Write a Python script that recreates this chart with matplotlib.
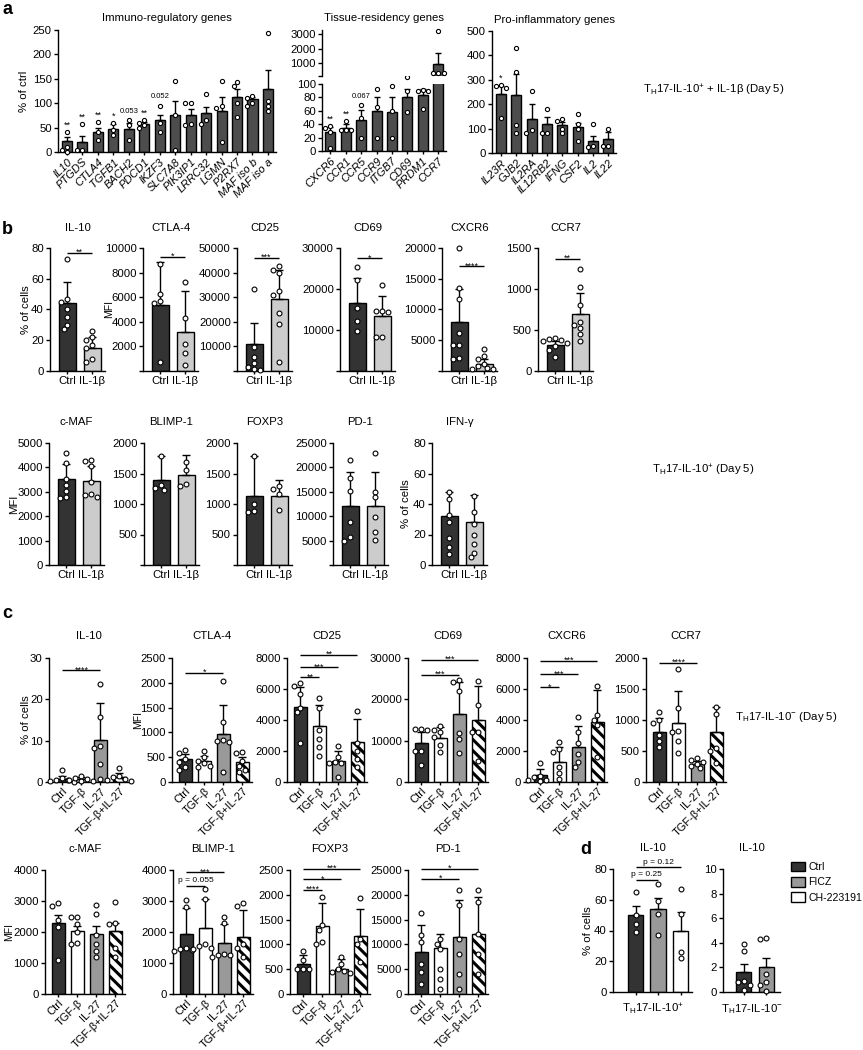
import numpy as np
import matplotlib
matplotlib.use('Agg')
import matplotlib.pyplot as plt
from matplotlib.patches import Patch

plt.rcParams['font.family'] = ['Liberation Sans', 'DejaVu Sans']
plt.rcParams['hatch.linewidth'] = 2.2
plt.rcParams['axes.linewidth'] = 1.0

W, H = 863, 1050
FS = 8.2
DARK = '#333333'
A_BAR = '#4d4d4d'
LIGHT = '#cccccc'
MID = '#999999'

# ---------------- panel a ----------------
a_imm_genes = ['IL10', 'PTGDS', 'CTLA4', 'TGFB1', 'BACH2', 'PDCD1', 'IKZF3', 'SLC7A8',
               'PIK3IP1', 'LRRC32', 'LGMN', 'P2RX7', 'MAF iso b', 'MAF iso a']
a_imm_mean = [22, 20, 42, 48, 48, 57, 65, 75, 76, 79, 85, 113, 108, 130]
a_imm_err = [30, 33, 50, 57, 60, 62, 76, 104, 88, 93, 112, 130, 113, 169]
a_imm_pts = [[42, 10, 5, 0], [58, 5, 5], [62, 40, 25], [60, 45, 35], [65, 55, 25],
             [65, 60, 55, 50], [95, 60, 42], [145, 75, 5], [100, 100, 57, 55],
             [118, 65, 58], [146, 95, 90, 20], [144, 135, 100, 72],
             [115, 110, 100, 95], [243, 105, 95, 85]]
a_imm_sig = ['**', '**', '**', '*', '0.053', '**', '0.052', '', '', '', '', '', '', '']

a_tis_genes = ['CXCR6', 'CCR1', 'CCR5', 'CCR9', 'ITGB7', 'CD69', 'PRDM1', 'CCR7']
a_tis_mean = [28, 34, 46, 59, 58, 80, 83, 950]
a_tis_err = [36, 41, 61, 81, 81, 92, 92, 1700]
a_tis_pts = [[38, 35, 28, 5], [45, 32, 32, 32], [68, 50, 20], [92, 65, 20], [97, 60, 20],
             [110, 90, 58], [91, 90, 90, 62], [3200, 330, 330, 330]]
a_tis_sig = ['**', '**', '0.067', '', '', '', '', '']

a_pro_genes = ['IL23R', 'GJB2', 'IL2RA', 'IL12RB2', 'IFNG', 'CSF2', 'IL2', 'IL22']
a_pro_mean = [240, 237, 140, 117, 113, 108, 50, 58]
a_pro_err = [275, 325, 200, 148, 128, 125, 70, 87]
a_pro_pts = [[280, 275, 265, 145], [430, 330, 115, 80], [255, 95, 80], [180, 80, 80],
             [140, 130, 100, 80], [160, 120, 100, 50], [120, 30, 25], [100, 30, 30]]
a_pro_sig = ['*', '', '', '', '', '', '', '']

# ---------------- panel b ----------------
b_groups = ['Ctrl', 'IL-1β']
b_colors = [DARK, LIGHT]

b1_titles = ['IL-10', 'CTLA-4', 'CD25', 'CD69', 'CXCR6', 'CCR7']
b1_ymax = [80, 10000, 50000, 30000, 20000, 1500]
b1_ystep = [20, 2000, 10000, 10000, 5000, 500]
b1_zero = [True, False, False, False, False, True]
b1_ylab = ['% of cells', 'MFI', '', '', '', '']
b1_mean = [[44, 15], [5400, 3200], [11000, 29300], [16700, 13500], [8000, 1200], [315, 690]]
b1_err = [[58, 22], [8900, 6500], [19500, 41000], [22800, 18400], [13300, 1900], [360, 950]]
b1_pts = [
    [[73, 47, 45, 40, 35, 30, 27], [26, 22, 20, 17, 15, 8, 6]],
    [[8700, 6300, 5700, 5500, 700], [7200, 4300, 2200, 1500, 500]],
    [[33300, 9700, 5700, 3200, 1600, 800, 300], [42500, 41000, 40000, 32500, 31000, 23600, 19100, 3700]],
    [[25400, 22200, 15400, 12200, 9800], [21000, 14600, 14600, 14500, 8300, 8300]],
    [[20000, 13500, 11700, 6200, 4200, 4200, 2100, 2000], [3500, 2400, 2000, 1200, 800, 500, 400, 300]],
    [[400, 390, 380, 370, 340, 300, 255, 170], [1240, 1020, 810, 600, 560, 520, 450, 370]],
]
b1_sig = [('**', 77), ('*', 9300), ('***', 46000), ('*', 27500), ('****', 17000), ('**', 1370)]

b2_titles = ['c-MAF', 'BLIMP-1', 'FOXP3', 'PD-1', 'IFN-γ']
b2_ymax = [5000, 2000, 2000, 25000, 80]
b2_ystep = [1000, 500, 500, 5000, 20]
b2_zero = [True, False, False, False, True]
b2_ylab = ['MFI', '', '', '', '% of cells']
b2_mean = [[3530, 3450], [1390, 1480], [1130, 1130], [12100, 12000], [32, 28]]
b2_err = [[4150, 4050], [1780, 1800], [1780, 1400], [19000, 19000], [48, 46]]
b2_pts = [
    [[4580, 4200, 3520, 3280, 3030, 2790, 2750], [4300, 4250, 4050, 3400, 2900, 2850, 2800]],
    [[1780, 1310, 1270, 1230], [1690, 1560, 1330, 1300]],
    [[1780, 1000, 880, 870], [1300, 1250, 1160, 900]],
    [[21500, 17800, 15100, 8800, 5700, 5000], [23000, 15000, 13900, 9800, 6800, 5200]],
    [[48, 43, 33, 28, 18, 12, 7], [45, 35, 27, 20, 14, 8, 5]],
]

# ---------------- panel c ----------------
c_groups = ['Ctrl', 'TGF-β', 'IL-27', 'TGF-β+IL-27']
c_colors = [DARK, 'white', MID, 'white']
c_hatch = [None, None, None, '\\\\\\']

c1_titles = ['IL-10', 'CTLA-4', 'CD25', 'CD69', 'CXCR6', 'CCR7']
c1_ymax = [30, 2500, 8000, 30000, 8000, 2000]
c1_ystep = [10, 500, 2000, 10000, 2000, 500]
c1_ylab = ['% of cells', 'MFI', '', '', '', '']
c1_mean = [[0.7, 0.8, 10.2, 1.3], [470, 420, 960, 400], [4850, 3600, 1350, 2600],
           [9400, 10700, 16500, 15000], [420, 1320, 2250, 3850], [800, 955, 290, 800]]
c1_err = [[1.5, 1.2, 19, 2.2], [560, 520, 1550, 500], [6100, 5000, 2000, 4050],
          [12200, 13400, 24300, 23200], [850, 2250, 3600, 5930], [1040, 1470, 340, 1210]]
c1_pts = [
    [[3, 1, 0.6, 0.4, 0.2, 0.1], [1.5, 1.0, 0.8, 0.5, 0.3, 0.2], [23.8, 15.7, 8.7, 8.2, 4.3, 0.8], [3.5, 1.5, 1.2, 0.8, 0.5, 0.3]],
    [[650, 590, 470, 400, 300, 250], [620, 500, 430, 380, 330, 300], [2030, 1200, 850, 830, 800, 200], [600, 580, 420, 330, 250, 200]],
    [[6400, 6200, 5700, 4800, 4500, 2500], [5400, 4800, 3350, 2800, 2250, 1700], [2300, 1600, 1300, 1200, 1200, 300], [4600, 2500, 2000, 1500, 1000]],
    [[12800, 12800, 12500, 7500, 7500, 4000], [13500, 12600, 12000, 11000, 9000, 7300], [24700, 24300, 21900, 11900, 10400, 7100], [24500, 18600, 12200, 12000, 5000]],
    [[1250, 400, 300, 150, 100, 50], [2600, 2100, 1950, 1000, 600, 200], [4200, 3230, 2500, 1800, 1300, 1000], [6190, 4320, 4000, 3700, 1630]],
    [[1130, 1000, 950, 760, 660, 570], [1820, 1190, 820, 800, 660, 470], [380, 350, 320, 290, 260, 220], [1210, 1100, 550, 500, 300]],
]
c1_sig = [[('****', 0, 2, 27)], [('*', 0, 2, 2200)],
          [('**', 0, 1, 6750), ('***', 0, 2, 7400), ('**', 0, 3, 8200)],
          [('***', 0, 2, 26000), ('***', 0, 3, 29500)],
          [('*', 0, 1, 6100), ('***', 0, 2, 6950), ('***', 0, 3, 7800)],
          [('****', 0, 2, 1920)]]

c2_titles = ['c-MAF', 'BLIMP-1', 'FOXP3', 'PD-1']
c2_ymax = [4000, 4000, 2500, 25000]
c2_ystep = [1000, 1000, 500, 5000]
c2_ylab = ['MFI', '', '', '']
c2_mean = [[2280, 2030, 1930, 2030], [1950, 2120, 1630, 1840], [610, 1380, 510, 1170], [8400, 9200, 11500, 12000]]
c2_err = [[2550, 2200, 2200, 2300], [2760, 3050, 2260, 2700], [790, 1830, 700, 1720], [13900, 12000, 19000, 19500]]
c2_pts = [
    [[2930, 2830, 2380, 2150, 1100], [2490, 2490, 2270, 2000, 1650, 1600], [2860, 2580, 1900, 1600, 1400, 1180], [2960, 2300, 2250, 1500, 1200]],
    [[3030, 2800, 1470, 1450, 1420, 1400], [3380, 3050, 1600, 1550, 1500, 1450], [2480, 2300, 1300, 1250, 1250, 1200], [2950, 2850, 1600, 1500, 1200]],
    [[866, 680, 500, 500, 500], [1960, 1400, 1300, 1050, 1000], [750, 600, 500, 470, 450, 420], [1930, 1100, 1000, 650]],
    [[16260, 11900, 10400, 6000, 4500, 2000], [11000, 10000, 9000, 5000, 3000, 1000], [21000, 18000, 11000, 8000, 4000, 1000], [21000, 18500, 12000, 8000, 4000]],
]
c2_sig = [[], [('p = 0.055', 0, 1, 3500), ('***', 0, 2, 3920)],
          [('****', 0, 1, 2100), ('*', 0, 2, 2310), ('***', 0, 3, 2520)],
          [('*', 0, 2, 23200), ('*', 0, 3, 25300)]]

# ---------------- panel d ----------------
d_groups = ['Ctrl', 'FICZ', 'CH-223191']
d_colors = [DARK, MID, 'white']
d_pos_mean = [50, 54, 40]
d_pos_err = [56, 61, 52]
d_pos_pts = [[65, 50, 44, 39], [70, 59, 51, 37], [67, 51, 26, 22]]
d_pos_sig = [('p = 0.25', 0, 1, 73), ('p = 0.12', 0, 2, 81)]
d_neg_mean = [1.6, 2.0]
d_neg_err = [2.3, 2.8]
d_neg_pts = [[3.9, 3.3, 0.9, 0.8, 0.6, 0.2], [4.4, 4.3, 1.5, 0.8, 0.6, 0.1]]

fig = plt.figure(figsize=(W / 100, H / 100), dpi=100)


def axpx(l, t, r, b):
    ax = fig.add_axes([l / W, 1 - b / H, (r - l) / W, (b - t) / H])
    ax._rect_px = (l, t, r, b)
    return ax


def ftext(x, y, s, **kw):
    fig.text(x / W, 1 - y / H, s, **kw)


def style(ax, fs=FS):
    for s in ['top', 'right']:
        ax.spines[s].set_visible(False)
    ax.tick_params(direction='out', length=3, width=1, labelsize=fs, pad=1.5)


def set_yt(ax, ymax, step, zero=True):
    ticks = np.arange(0, ymax + step / 2, step)
    ax.set_yticks(ticks)
    ax.set_yticklabels(['' if (t == 0 and not zero) else f'{t:g}' for t in ticks])


def ylab(ax, text, cx, cy=None, fs=FS):
    # cx, cy: centre of the rotated label in figure pixels
    l, t, r, b = ax._rect_px
    ax.set_ylabel(text, fontsize=fs)
    ya = 0.5 if cy is None else (b - cy) / (b - t)
    ax.yaxis.set_label_coords((cx + fs * 0.8 - l) / (r - l), ya)


def swarm(vals, ypx, xpx, d=4.6):
    order = np.argsort(vals)[::-1]
    placed = []
    offs = np.zeros(len(vals))
    for idx in order:
        y = vals[idx] * ypx
        x = 0.0
        for k in [0, -1, 1, -2, 2, -3, 3, -4, 4]:
            x = k * d * 0.55
            if all((x - px) ** 2 + (y - py) ** 2 >= (0.95 * d) ** 2 for px, py in placed):
                break
        placed.append((x, y))
        offs[idx] = x / xpx
    return offs


def draw_points(ax, pts, ylim, ms, idx=None):
    l, t, r, b = ax._rect_px
    xlim = ax.get_xlim()
    ypx = (b - t) / (ylim[1] - ylim[0])
    xpx = (r - l) / (xlim[1] - xlim[0])
    for i, p in enumerate(pts):
        p = np.array(p, float)
        if len(p) == 0:
            continue
        off = swarm(p - ylim[0], ypx, xpx, d=ms * 1.39 + 0.6)
        xi = i if idx is None else idx[i]
        ax.plot(xi + off, p, 'o', ms=ms, mfc='white', mec='black', mew=0.8,
                zorder=4, clip_on=False, linestyle='none')


def bar_panel(rect, xlim, ylim, means, errs, pts, colors, hatches=None, width=0.68,
              cap=3, ms=3.5):
    ax = axpx(*rect)
    style(ax)
    ax.set_xlim(xlim)
    ax.set_ylim(ylim)
    x = np.arange(len(means))
    bars = ax.bar(x, means, width=width, color=colors, edgecolor='black', linewidth=1, zorder=2)
    if hatches:
        for b, h in zip(bars, hatches):
            if h:
                b.set_hatch(h)
    up = np.array(errs, float) - np.array(means, float)
    ax.errorbar(x, means, yerr=[np.zeros(len(x)), up], fmt='none', ecolor='black',
                elinewidth=1, capsize=cap, capthick=1, zorder=3)
    draw_points(ax, pts, ylim, ms)
    return ax


def sig(ax, i, j, y, txt):
    ax.plot([i, j], [y, y], color='black', lw=1, clip_on=False, solid_capstyle='butt')
    if txt.startswith('p'):
        ax.annotate(txt, ((i + j) / 2, y), xytext=(0, 1), textcoords='offset points',
                    ha='center', va='bottom', fontsize=6, annotation_clip=False)
    else:
        ax.annotate(txt, ((i + j) / 2, y), xytext=(0, -1.5), textcoords='offset points',
                    ha='center', va='baseline', fontsize=6.5, annotation_clip=False)


def gene_labels(ax, genes):
    ax.set_xticks(np.arange(len(genes)))
    ax.set_xticklabels(genes, rotation=45, ha='right', rotation_mode='anchor',
                       fontstyle='italic', fontsize=8)
    ax.tick_params(axis='x', length=2)


def a_sig(ax, errs, pts, labels):
    for i, s in enumerate(labels):
        if not s:
            continue
        top = max(errs[i], max(pts[i]))
        fs = 5.5 if s[0].isdigit() else 6.5
        off = 4 if s[0].isdigit() else 1.5
        ax.annotate(s, (i, top), xytext=(0, off), textcoords='offset points',
                    ha='center', va='bottom', fontsize=fs, annotation_clip=False)


# ---------- a ----------
ftext(2, 9, 'a', fontsize=13, fontweight='bold', va='center')
ax = bar_panel((58, 30, 276, 152), (-0.58, 13.52), (0, 250), a_imm_mean, a_imm_err,
               a_imm_pts, [A_BAR] * 14, width=0.65, cap=2.2, ms=3.0)
set_yt(ax, 250, 50)
gene_labels(ax, a_imm_genes)
ylab(ax, '% of ctrl', 22)
ax.set_title('Immuno-regulatory genes', fontsize=FS, pad=6.5)
a_sig(ax, a_imm_err, a_imm_pts, a_imm_sig)

# tissue residency, broken axis: lower segment 0-100
low_pts = [[v for v in p if v <= 150] for p in a_tis_pts]
axb = bar_panel((322, 84, 446, 151), (-0.55, 7.5), (0, 100), a_tis_mean, a_tis_err,
                low_pts, [A_BAR] * 8, width=0.65, cap=2.2, ms=3.0)
set_yt(axb, 100, 20)
gene_labels(axb, a_tis_genes)
a_sig(axb, a_tis_err, [p if p else [0] for p in low_pts], a_tis_sig)

# upper segment: only bars reaching above 100
axt = axpx(322, 30, 446, 76)
style(axt)
axt.set_xlim(-0.55, 7.5)
axt.set_ylim(100, 3300)
hi = [i for i, m in enumerate(a_tis_mean) if m > 100]
axt.bar(hi, [a_tis_mean[i] for i in hi], width=0.65, color=A_BAR, edgecolor='black',
        linewidth=1, zorder=2)
axt.errorbar(hi, [a_tis_mean[i] for i in hi],
             yerr=[[0] * len(hi), [a_tis_err[i] - a_tis_mean[i] for i in hi]],
             fmt='none', ecolor='black', elinewidth=1, capsize=2.2, capthick=1, zorder=3)
draw_points(axt, [[v for v in a_tis_pts[i] if v > 150] for i in hi], (100, 3300), 3.0, idx=hi)
axt.spines['bottom'].set_visible(False)
axt.set_xticks([])
axt.set_yticks([1000, 2000, 3000])
axt.set_yticks([100], minor=True)
axt.tick_params(axis='y', which='minor', length=3, width=1)
axt.set_title('Tissue-residency genes', fontsize=FS, pad=6.5)

ax = bar_panel((492, 31, 616, 153), (-0.58, 7.5), (0, 500), a_pro_mean, a_pro_err,
               a_pro_pts, [A_BAR] * 8, width=0.65, cap=2.2, ms=3.0)
set_yt(ax, 500, 100)
gene_labels(ax, a_pro_genes)
ax.set_title('Pro-inflammatory genes', fontsize=FS, pad=5.5)
a_sig(ax, a_pro_err, a_pro_pts, a_pro_sig)

ftext(643, 90, r'T$_\mathregular{H}$17-IL-10$^\mathregular{+}$ + IL-1β (Day 5)', fontsize=FS, va='center')

# ---------- b ----------
ftext(2, 229, 'b', fontsize=13, fontweight='bold', va='center')
b1_left = [50, 143, 237, 340, 442, 538]
b1_labx = [24, 108, 0, 0, 0, 0]
for k in range(6):
    l = b1_left[k]
    ax = bar_panel((l, 248, l + 55, 371), (-0.68, 1.52), (0, b1_ymax[k]), b1_mean[k],
                   b1_err[k], b1_pts[k], b_colors)
    set_yt(ax, b1_ymax[k], b1_ystep[k], b1_zero[k])
    ax.set_xticks([0, 1])
    ax.set_xticklabels(b_groups)
    ax.tick_params(axis='x', length=2)
    ax.set_title(b1_titles[k], fontsize=FS, pad=12)
    if b1_ylab[k] == 'MFI':
        ylab(ax, 'MFI', b1_labx[k], 309, fs=7.5)
    elif b1_ylab[k]:
        ylab(ax, b1_ylab[k], b1_labx[k])
    sig(ax, 0, 1, b1_sig[k][1], b1_sig[k][0])

b2_left = [49, 144, 237, 333, 432]
b2_labx = [13, 0, 0, 0, 404]
for k in range(5):
    l = b2_left[k]
    ax = bar_panel((l, 443, l + 55, 565), (-0.68, 1.52), (0, b2_ymax[k]), b2_mean[k],
                   b2_err[k], b2_pts[k], b_colors)
    set_yt(ax, b2_ymax[k], b2_ystep[k], b2_zero[k])
    ax.set_xticks([0, 1])
    ax.set_xticklabels(b_groups)
    ax.tick_params(axis='x', length=2)
    ax.set_title(b2_titles[k], fontsize=FS, pad=13)
    if b2_ylab[k]:
        ylab(ax, b2_ylab[k], b2_labx[k])

ftext(652, 470, r'T$_\mathregular{H}$17-IL-10$^\mathregular{+}$ (Day 5)', fontsize=FS, va='center')

# ---------- c ----------
ftext(2, 613, 'c', fontsize=13, fontweight='bold', va='center')


def c_panel(rect, title, ymax, step, mean, err, pts, sigs, pad):
    ax = bar_panel(rect, (-0.7, 3.5), (0, ymax), mean, err, pts, c_colors, c_hatch)
    set_yt(ax, ymax, step)
    ax.set_xticks(np.arange(4))
    ax.set_xticklabels(c_groups, rotation=45, ha='right', rotation_mode='anchor', fontsize=8)
    ax.tick_params(axis='x', length=2, pad=1)
    ax.set_title(title, fontsize=FS, pad=pad)
    for s in sigs:
        sig(ax, s[1], s[2], s[3], s[0])
    return ax


c1_left = [49, 172, 287, 408, 527, 646]
c1_labx = [24, 137, 0, 0, 0, 0]
for k in range(6):
    l = c1_left[k]
    ax = c_panel((l, 658, l + 80, 782), c1_titles[k], c1_ymax[k], c1_ystep[k], c1_mean[k],
                 c1_err[k], c1_pts[k], c1_sig[k], 13.5)
    if c1_ylab[k] == 'MFI':
        ylab(ax, 'MFI', c1_labx[k], 720, fs=7.5)
    elif c1_ylab[k]:
        ylab(ax, c1_ylab[k], c1_labx[k])

ftext(735, 717, r'T$_\mathregular{H}$17-IL-10$^\mathregular{−}$ (Day 5)', fontsize=FS, va='center')

c2_left = [45, 173, 290, 408]
c2_labx = [8, 0, 0, 0]
for k in range(4):
    l = c2_left[k]
    ax = c_panel((l, 870, l + 80, 994), c2_titles[k], c2_ymax[k], c2_ystep[k], c2_mean[k],
                 c2_err[k], c2_pts[k], c2_sig[k], 13)
    if c2_ylab[k]:
        ylab(ax, c2_ylab[k], c2_labx[k], fs=7.5)

# ---------- d ----------
ftext(580, 850, 'd', fontsize=13, fontweight='bold', va='center')
ax = bar_panel((613, 869, 692, 992), (-1.0, 2.5), (0, 80), d_pos_mean, d_pos_err,
               d_pos_pts, d_colors)
set_yt(ax, 80, 20)
ax.set_xticks([0, 1, 2])
ax.set_xticklabels([])
ax.tick_params(axis='x', length=2)
ylab(ax, '% of cells', 586)
ax.set_xlabel(r'T$_\mathregular{H}$17-IL-10$^\mathregular{+}$', fontsize=FS, labelpad=4)
ax.set_title('IL-10', fontsize=FS, pad=13)
for s in d_pos_sig:
    sig(ax, s[1], s[2], s[3], s[0])

ax = bar_panel((723, 869, 780, 992), (-0.9, 1.6), (0, 10), d_neg_mean, d_neg_err,
               d_neg_pts, d_colors[:2])
set_yt(ax, 10, 2)
ax.set_xticks([0, 1])
ax.set_xticklabels([])
ax.tick_params(axis='x', length=2)
ax.set_xlabel(r'T$_\mathregular{H}$17-IL-10$^\mathregular{−}$', fontsize=FS, labelpad=4)
ax.set_title('IL-10', fontsize=FS, pad=13)

handles = [Patch(facecolor=c, edgecolor='black', label=g) for c, g in zip(d_colors, d_groups)]
fig.legend(handles=handles, loc='upper left', bbox_to_anchor=(791 / W, 1 - 862 / H),
           frameon=False, fontsize=7.6, handlelength=1.3, handleheight=1.0,
           labelspacing=0.45, handletextpad=0.35, borderaxespad=0, borderpad=0)

fig.savefig('out.png', dpi=100)
